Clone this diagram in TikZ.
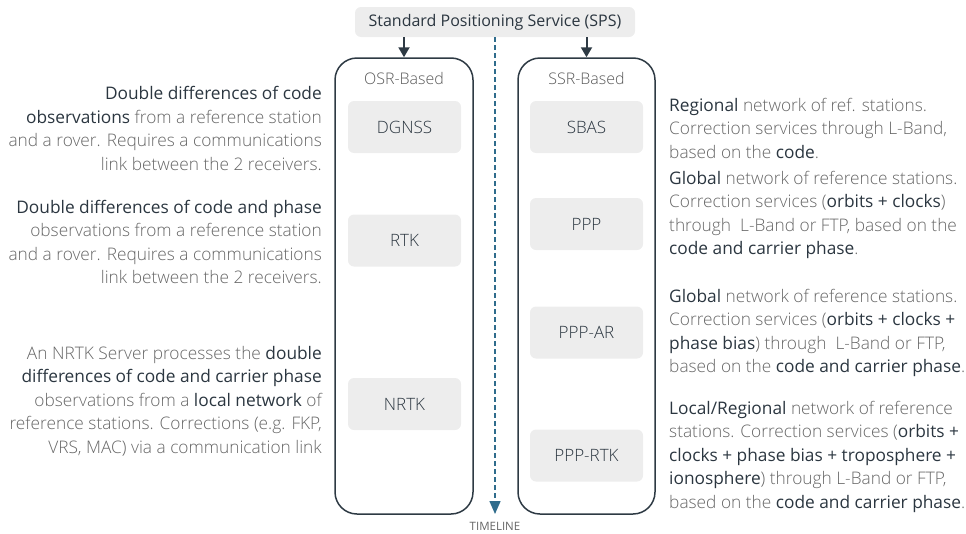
\documentclass[tikz,border=0pt]{standalone}
\usepackage{fontspec}
\setmainfont{Open Sans}
\newfontfamily\lightfont{Open Sans Light}
\usetikzlibrary{arrows.meta}
\definecolor{txtgray}{HTML}{666666}
\definecolor{txtdark}{HTML}{2B3640}
\definecolor{edgecol}{HTML}{2E3A44}
\definecolor{boxfill}{HTML}{EDEDED}
\definecolor{tline}{HTML}{2F6C8C}
\newcommand\hl[1]{{\normalfont\color{txtdark}#1}}
\tikzset{
  desc/.style={font=\fontsize{17.3}{23.5}\selectfont\lightfont, text=txtgray, inner sep=0pt},
  descl/.style={desc, anchor=east, align=right},
  descr/.style={desc, anchor=west, align=left},
  group/.style={draw=edgecol, line width=1.5pt, rounded corners=22pt, minimum height=456pt, inner sep=0pt},
  method/.style={fill=boxfill, rounded corners=6pt, minimum width=113pt, minimum height=52pt,
    font=\fontsize{17}{20}\selectfont\lightfont, text=txtdark, inner sep=0pt},
  grouplabel/.style={font=\fontsize{16}{20}\selectfont\lightfont, text=black!65, inner sep=0pt},
  feed/.style={draw=edgecol, line width=2pt, -{Triangle[width=11pt,length=10pt]}},
}
\begin{document}
\begin{tikzpicture}[x=1pt,y=-1pt]
\useasboundingbox (0,0) rectangle (966,533);
% top service
\node[fill=boxfill, rounded corners=6pt, minimum width=280pt, minimum height=30pt, inner sep=0pt,
  font=\fontsize{16}{20}\selectfont, text=txtdark] (sps) at (495,22) {Standard Positioning Service (SPS)};
% groups
\node[group, minimum width=138pt] (osr) at (404,286) {};
\node[group, minimum width=137pt] (ssr) at (586.5,286) {};
\node[grouplabel] (osrl) at (404,78) {OSR-Based};
\node[grouplabel] (ssrl) at (586.5,78) {SSR-Based};
% methods
\node[method] (dgnss) at (404.5,127) {DGNSS};
\node[method] (rtk) at (404.5,240.5) {RTK};
\node[method] (nrtk) at (404.5,404) {NRTK};
\node[method] (sbas) at (586.5,127) {SBAS};
\node[method] (ppp) at (586.5,224) {PPP};
\node[method] (pppar) at (586.5,332.5) {PPP-AR};
\node[method] (ppprtk) at (586.5,455.5) {PPP-RTK};
% arrows
\draw[feed] (sps.south -| osr.north) -- (osr.north);
\draw[feed] (sps.south -| ssr.north) -- (ssr.north);
\coordinate (tlend) at (495,514);
\draw[tline, line width=1.5pt, dash pattern=on 5pt off 3pt, -{Triangle[width=11pt,length=13pt]}] (sps.south) -- (tlend);
\node[font=\fontsize{11.5}{14}\selectfont, text=txtgray, inner sep=0pt] (tl) at (495,526) {TIMELINE};
% left descriptions
\node[descl] (d1) at (322,128.5) {\hl{Double differences of code}\\
\hl{observations} from a reference station\\
and a rover. Requires a communications\\
link between the 2 receivers.};
\node[descl] (d2) at (322,242) {\hl{Double differences of code and phase}\\
observations from a reference station\\
and a rover. Requires a communications\\
link between the 2 receivers.};
\node[descl] (d3) at (322,401) {An NRTK Server processes the \hl{double}\\
\hl{differences of code and carrier phase}\\
observations from a \hl{local network} of\\
reference stations. Corrections (e.g. FKP,\\
VRS, MAC) via a communication link};
% right descriptions
\node[descr] (r1) at (669,128) {\hl{Regional} network of ref. stations.\\
Correction services through L-Band,\\
based on the \hl{code}.};
\node[descr] (r2) at (669,215) {\hl{Global} network of reference stations.\\
Correction services (\hl{orbits + clocks})\\
through\ \ L-Band or FTP, based on the\\
\hl{code and carrier phase}.};
\node[descr] (r3) at (669,333) {\hl{Global} network of reference stations.\\
Correction services (\hl{orbits + clocks +}\\
\hl{phase bias}) through\ \ L-Band or FTP,\\
based on the \hl{code and carrier phase}.};
\node[descr] (r4) at (669,456.5) {\hl{Local/Regional} network of reference\\
stations. Correction services (\hl{orbits +}\\
\hl{clocks + phase bias + troposphere +}\\
\hl{ionosphere}) through L-Band or FTP,\\
based on the \hl{code and carrier phase}.};
\end{tikzpicture}
\end{document}
